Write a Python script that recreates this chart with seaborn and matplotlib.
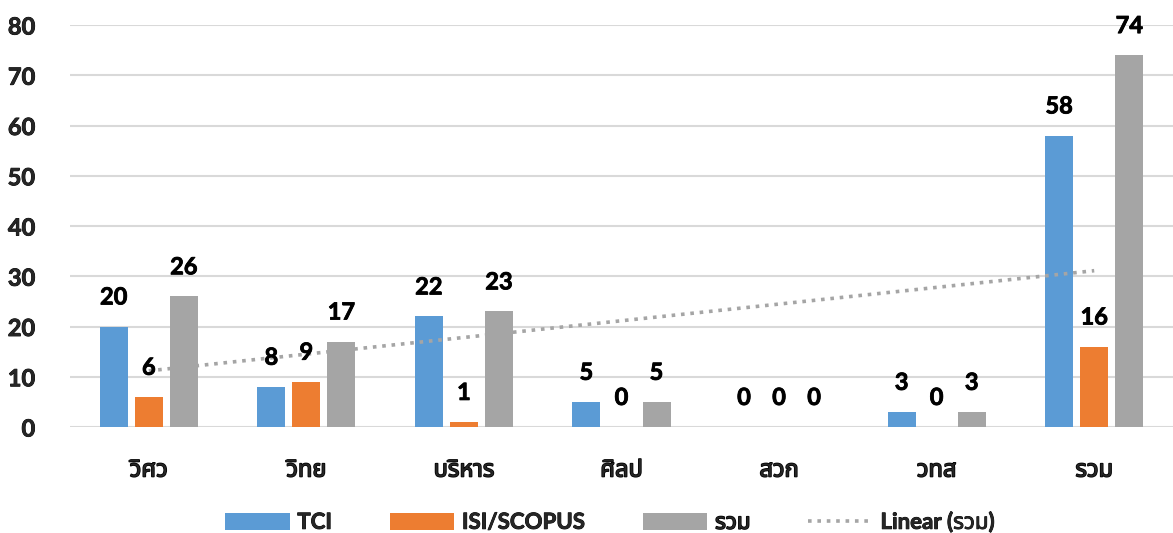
import numpy as np
import pandas as pd
import matplotlib
matplotlib.use("Agg")
import matplotlib.pyplot as plt
from matplotlib import font_manager
from matplotlib.patches import Patch
from matplotlib.lines import Line2D
import matplotlib.patheffects as pe
import seaborn as sns

categories = ["วิศว", "วิทย", "บริหาร", "ศิลป", "สวก", "วทส", "รวม"]
tci = [20, 8, 22, 5, 0, 3, 58]
isi_scopus = [6, 9, 1, 0, 0, 0, 16]
total = [26, 17, 23, 5, 0, 3, 74]
series_names = ["TCI", "ISI/SCOPUS", "รวม"]
trend_label = "Linear (รวม)"
yticks = [0, 10, 20, 30, 40, 50, 60, 70, 80]
colors = ["#5B9BD5", "#ED7D31", "#A5A5A5"]

sns.set_theme(style="white")

# find a sans-serif font that covers Thai
thai_font = None
try:
    from fontTools.ttLib import TTFont
    cands = {}
    for f in font_manager.fontManager.ttflist:
        try:
            tt = TTFont(f.fname, fontNumber=0, lazy=True)
            cmap = tt.getBestCmap()
            if cmap and 0x0E27 in cmap:
                cands[f.name] = True
        except Exception:
            pass
    prefs = ["Noto Sans Thai", "Noto Sans Thai UI", "Kanit", "Prompt", "Sarabun",
             "Loma", "Garuda", "Waree", "Umpush", "Sawasdee", "Tlwg Typo",
             "Leelawadee UI", "Tahoma"]
    for p in prefs:
        if p in cands:
            thai_font = p
            break
    if thai_font is None and cands:
        bad = ("Serif", "Kinnari", "Norasi", "Laksaman", "Purisa", "Mono")
        good = [n for n in cands if not any(b in n for b in bad)]
        thai_font = (good or list(cands))[0]
except Exception:
    pass
fams = ["Lato"] + ([thai_font] if thai_font else []) + ["DejaVu Sans"]
plt.rcParams["font.family"] = fams

bold_fx = [pe.withStroke(linewidth=1.1, foreground="black")]
light_fx = [pe.withStroke(linewidth=0.6, foreground="black")]

df = pd.DataFrame({
    "cat": categories * 3,
    "series": sum([[s] * len(categories) for s in series_names], []),
    "value": tci + isi_scopus + total,
})

fig = plt.figure(figsize=(11.73, 5.33), dpi=100)
ax = fig.add_axes([70 / 1173, 1 - 427 / 533, 1103 / 1173, 402 / 533])

sns.barplot(data=df, x="cat", y="value", hue="series", palette=colors,
            saturation=1, width=0.667, gap=0.2, linewidth=0, edgecolor="none",
            ax=ax, legend=False, zorder=2)

for cont in ax.containers:
    labs = ax.bar_label(cont, padding=13, fontsize=17, fontweight="bold", color="black", zorder=5)
    for t in labs:
        t.set_path_effects(light_fx)

xs = np.arange(len(categories))
sns.regplot(x=xs, y=np.array(total, dtype=float), scatter=False, ci=None, ax=ax,
            line_kws=dict(color="#A5A5A5", linestyle=(0, (1, 1.6)), linewidth=2.6, zorder=3))

ax.set_xlim(-0.5, len(categories) - 0.5)
ax.set_ylim(0, 80)
ax.set_yticks(yticks)
ax.set_yticklabels([str(t) for t in yticks])
ax.grid(axis="y", color="#D9D9D9", linewidth=1.5, zorder=0)
ax.set_axisbelow(True)
for s in ax.spines.values():
    s.set_visible(False)
ax.tick_params(axis="both", length=0, labelsize=17)
ax.tick_params(axis="y", pad=25)
ax.tick_params(axis="x", pad=22)
for lab in ax.get_yticklabels():
    lab.set_fontweight("bold")
    lab.set_path_effects(light_fx)
for lab in ax.get_xticklabels():
    lab.set_fontweight("bold")
    lab.set_path_effects(bold_fx)
ax.set_xlabel("")
ax.set_ylabel("")

handles = [Patch(facecolor=c, edgecolor="none") for c in colors]
handles.append(Line2D([0], [0], color="#A5A5A5", linestyle=(0, (1, 1.6)), linewidth=2.6))
leg = fig.legend(handles, series_names + [trend_label], loc="center",
                 bbox_to_anchor=(0.52, 1 - 522 / 533), ncol=4, frameon=False, borderpad=0.2,
                 handlelength=2.9, handleheight=0.8, handletextpad=0.35,
                 columnspacing=2.6, fontsize=16)
for t in leg.get_texts():
    t.set_fontweight("bold")
    if t.get_text() == "รวม":
        t.set_path_effects(bold_fx)
    else:
        t.set_path_effects(light_fx)

fig.savefig("out.png", dpi=100)
